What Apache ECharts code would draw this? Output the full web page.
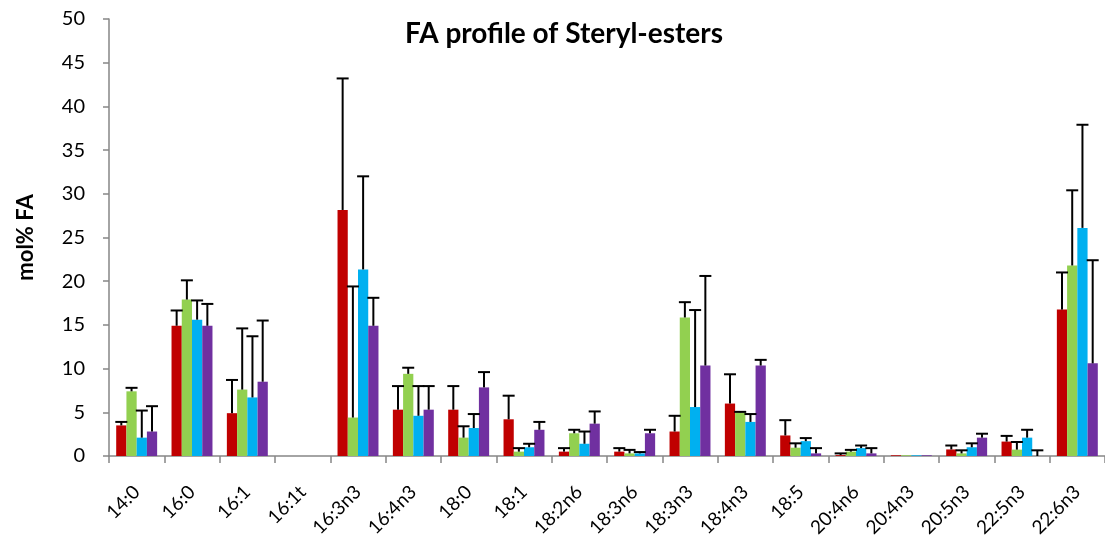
<!DOCTYPE html>
<html>
<head>
<meta charset="utf-8">
<script src="https://cdn.jsdelivr.net/npm/echarts@6/dist/echarts.min.js"></script>
<style>
  html, body { margin: 0; padding: 0; background: #fff; }
  #chart { width: 1105px; height: 546px; }
</style>
</head>
<body>
<div id="chart"></div>
<script>
// Fatty-acid categories
const categories = ['14:0','16:0','16:1','16:1t','16:3n3','16:4n3','18:0','18:1','18:2n6','18:3n6','18:3n3','18:4n3','18:5','20:4n6','20:4n3','20:5n3','22:5n3','22:6n3'];

// Mean mol% per group
const redMean    = [3.5, 14.9, 4.9, 0, 28.15, 5.3, 5.3, 4.2, 0.5, 0.5, 2.8, 6.0, 2.35, 0.1, 0.08, 0.75, 1.65, 16.75];
const greenMean  = [7.4, 17.9, 7.6, 0, 4.4, 9.4, 2.1, 0.5, 2.6, 0.3, 15.85, 5.0, 0.95, 0.5, 0.08, 0.3, 0.73, 21.8];
const blueMean   = [2.1, 15.6, 6.7, 0, 21.35, 4.6, 3.2, 1.0, 1.4, 0.3, 5.6, 3.9, 1.7, 0.9, 0.08, 1.0, 2.1, 26.1];
const purpleMean = [2.8, 14.9, 8.5, 0, 14.9, 5.3, 7.85, 3.0, 3.7, 2.6, 10.35, 10.35, 0.3, 0.3, 0.08, 2.1, 0, 10.6];

// Standard deviations (drawn as upward error bars)
const redErr    = [0.4, 1.75, 3.8, 0, 15.05, 2.7, 2.7, 2.7, 0.4, 0.4, 1.8, 3.35, 1.75, 0.2, 0, 0.45, 0.65, 4.25];
const greenErr  = [0.4, 2.2, 7.0, 0, 15.0, 0.7, 1.3, 0.4, 0.4, 0.4, 1.75, 0.05, 0.5, 0.2, 0, 0.35, 0.87, 8.6];
const blueErr   = [3.1, 2.2, 7.0, 0, 10.65, 3.4, 1.6, 0.4, 1.4, 0.15, 11.1, 0.9, 0.35, 0.3, 0, 0.45, 0.9, 11.8];
const purpleErr = [2.9, 2.5, 7.0, 0, 3.2, 2.7, 1.75, 0.9, 1.4, 0.4, 10.25, 0.65, 0.6, 0.6, 0, 0.45, 0.65, 11.8];

// Y-axis ticks
const yMin = 0, yMax = 50, yStep = 5;

const groups = [
  { name: 'Group 1', color: '#C00000', mean: redMean, err: redErr },
  { name: 'Group 2', color: '#92D050', mean: greenMean, err: greenErr },
  { name: 'Group 3', color: '#00B0F0', mean: blueMean, err: blueErr },
  { name: 'Group 4', color: '#7030A0', mean: purpleMean, err: purpleErr }
];

const CATEGORY_GAP = 0.26;
const FONT = 'Lato, "Open Sans", sans-serif';
const AXIS_COLOR = '#868686';

function errorBarSeries(g, idx) {
  return {
    type: 'custom',
    name: g.name + ' SD',
    z: 10,
    silent: true,
    encode: { x: 0, y: 1 },
    data: g.mean.map((m, i) => [i, m, g.err[i]]),
    renderItem: function (params, api) {
      const err = api.value(2);
      if (!err) return null;
      const cat = api.value(0);
      const val = api.value(1);
      const base = api.coord([cat, val]);
      const top = api.coord([cat, val + err]);
      const band = api.size([1, 0])[0];
      const bw = band * (1 - CATEGORY_GAP) / groups.length;
      const x = base[0] + (idx - (groups.length - 1) / 2) * bw;
      const style = { stroke: '#000', lineWidth: 2 };
      return {
        type: 'group',
        children: [
          { type: 'line', shape: { x1: x, y1: base[1], x2: x, y2: top[1] }, style: style },
          { type: 'line', shape: { x1: x - 6, y1: top[1], x2: x + 6, y2: top[1] }, style: style }
        ]
      };
    }
  };
}

const series = [];
groups.forEach(g => {
  series.push({
    type: 'bar',
    name: g.name,
    data: g.mean,
    barGap: '0%',
    barCategoryGap: (CATEGORY_GAP * 100) + '%',
    itemStyle: { color: g.color },
    z: 2
  });
});
groups.forEach((g, i) => series.push(errorBarSeries(g, i)));

const chart = echarts.init(document.getElementById('chart'), null, { renderer: 'canvas' });
chart.setOption({
  animation: false,
  backgroundColor: '#fff',
  title: {
    text: 'FA profile of Steryl-esters',
    left: 559,
    textAlign: 'center',
    top: 15,
    textStyle: { fontFamily: FONT, fontWeight: 'bold', fontSize: 28, color: '#000' }
  },
  grid: { left: 109, right: -9, top: 19, bottom: 90, containLabel: false },
  xAxis: {
    type: 'category',
    data: categories,
    axisLine: { lineStyle: { color: AXIS_COLOR, width: 1.5 } },
    axisTick: { show: true, length: 7, lineStyle: { color: AXIS_COLOR, width: 1.5 } },
    axisLabel: {
      rotate: 45,
      interval: 0,
      margin: 33,
      fontFamily: FONT,
      fontSize: 19,
      color: '#000'
    }
  },
  yAxis: {
    type: 'value',
    min: yMin,
    max: yMax,
    interval: yStep,
    name: 'mol% FA',
    nameLocation: 'middle',
    nameRotate: 90,
    nameGap: 72,
    nameTextStyle: { fontFamily: FONT, fontWeight: 'bold', fontSize: 22, color: '#000' },
    splitLine: { show: false },
    axisLine: { show: true, lineStyle: { color: AXIS_COLOR, width: 1.5 } },
    axisTick: { show: true, length: 6, lineStyle: { color: AXIS_COLOR, width: 1.5 } },
    axisLabel: { margin: 24, fontFamily: FONT, fontSize: 20, color: '#000' }
  },
  series: series
});
</script>
</body>
</html>
